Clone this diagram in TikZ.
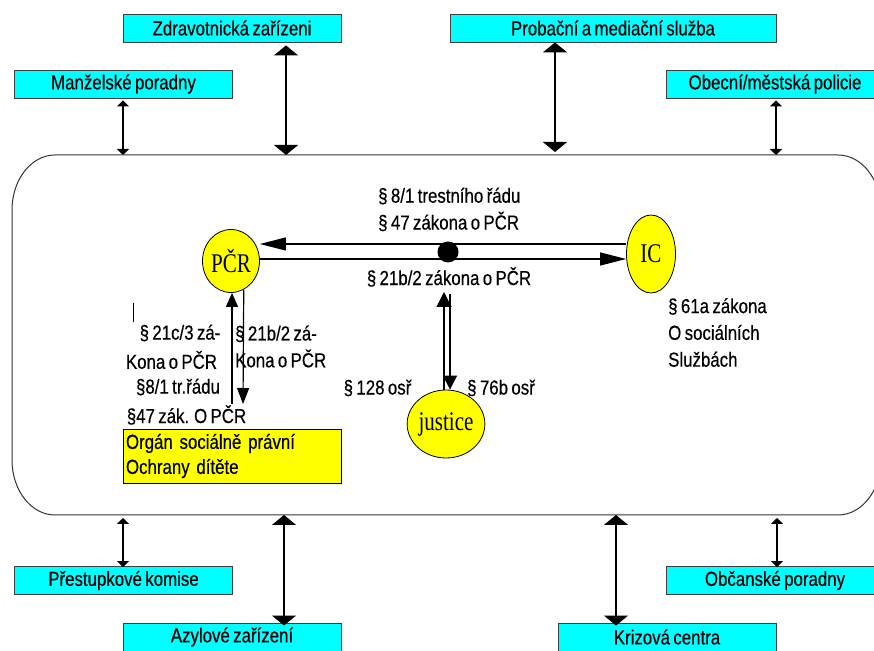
\documentclass[tikz,border=0pt]{standalone}
\usepackage{fontspec}
\setmainfont{Liberation Sans}[FakeStretch=0.83,WordSpace=0.72,FakeBold=0.4]
\newfontfamily\serifn{Liberation Serif}[FakeStretch=0.78]
\usetikzlibrary{arrows.meta,shapes.geometric,calc}
\definecolor{aqua}{RGB}{0,255,255}
\definecolor{yel}{RGB}{255,255,0}
\begin{document}
\begin{tikzpicture}[x=1pt,y=1pt,
  txt/.style={font=\fontsize{20.3}{26.8}\selectfont, inner sep=0pt},
  org/.style={draw=black!75, line width=0.9pt, fill=aqua, minimum width=218pt,
    minimum height=28pt, inner sep=0pt, font=\fontsize{20.3}{26}\selectfont},
  body/.style={ellipse, draw=black, line width=0.8pt, fill=yel, inner sep=0pt,
    font=\serifn\fontsize{27}{30}\selectfont},
  big/.style={line width=1.6pt, {Triangle[width=24pt,length=10pt]}-{Triangle[width=24pt,length=10pt]}},
  small/.style={line width=1.3pt, {Triangle[width=12pt,length=6pt]}-{Triangle[width=12pt,length=6pt]}},
  hl/.style={line width=1.2pt, -{Triangle[width=13pt,length=26pt]}},
  vl/.style={line width=1.2pt}
]
\useasboundingbox (0,0) rectangle (874,650);
\fill[white] (0,0) rectangle (874,650);

% frame
\draw[black!80, line width=1pt] (55,495) -- (838,495)
  arc[start angle=90,end angle=0,x radius=43,y radius=55] -- (881,190)
  arc[start angle=0,end angle=-90,x radius=43,y radius=55] -- (55,135)
  arc[start angle=270,end angle=180,x radius=43,y radius=55] -- (12,440)
  arc[start angle=180,end angle=90,x radius=43,y radius=55] -- cycle;

% outer boxes
\node[org] (zdrav) at (232,622) {Zdravotnická zařízeni};
\node[org] (manz) at (123.5,566) {Manželské poradny};
\node[org, minimum width=326pt] (prob) at (613,622) {Probační a mediační služba};
\node[org] (obec) at (775,566) {Obecní/městská policie};
\node[org] (prest) at (123.5,69.5) {Přestupkové komise};
\node[org] (azyl) at (232,13) {Azylové zařízení};
\node[org] (obc) at (775,69.5) {Občanské poradny};
\node[org] (kriz) at (667,13) {Krizová centra};

% frame anchor points
\coordinate (f1) at (123,495);
\coordinate (f2) at (286,495);
\coordinate (f3) at (555,498);
\coordinate (f4) at (776,495);
\coordinate (f5) at (123,132);
\coordinate (f6) at (284,135);
\coordinate (f7) at (616,135);
\coordinate (f8) at (777,132);

\draw[small] ([yshift=-2pt]manz.south -| f1) -- (f1);
\draw[big] ([yshift=-3pt]zdrav.south -| f2) -- (f2);
\draw[big] (prob.south -| f3) -- (f3);
\draw[small] ([yshift=-2pt]obec.south -| f4) -- (f4);
\draw[small] (f5) -- ([yshift=-1pt]prest.north -| f5);
\draw[big] (f6) -- ([yshift=-3pt]azyl.north -| f6);
\draw[big] (f7) -- ([yshift=-3pt]kriz.north -| f7);
\draw[small] (f8) -- ([yshift=-1pt]obc.north -| f8);

% inner nodes
\node[body, minimum width=57pt, minimum height=63pt] (pcr) at (231,389) {PČR};
\node[body, minimum width=49pt, minimum height=78pt] (ic) at (651,396) {IC};
\node[body, minimum width=56pt, minimum height=68pt] (just) at (446,226) {justice};

\coordinate (yA) at (0,406);
\coordinate (yB) at (0,391);
\draw[hl] (ic.west |- yA) -- (pcr.east |- yA);
\draw[hl] (pcr.east |- yB) -- (ic.west |- yB);

\node[circle, fill=black, minimum size=21pt, inner sep=0pt] (dot) at (448,398) {};

% PCR verticals
\coordinate (pa) at (232,246);
\coordinate (pb) at (243,246);
\draw[vl, -{Triangle[width=12pt,length=14pt]}] (pa) -- ([xshift=1pt]pcr.south);
\draw[vl, -{Triangle[width=12pt,length=16pt]}] (pcr.-66.6) -- (pb);

% justice verticals
\coordinate (ja) at (444,358);
\coordinate (jb) at (450,356);
\draw[vl, -{Triangle[width=15pt,length=15pt]}] ([xshift=-2pt]just.north) -- (ja);
\draw[vl, -{Triangle[width=14pt,length=14pt]}] (jb) -- ([xshift=4pt]just.north);

% stray mark
\draw[line width=0.8pt] (133,347) -- (133,328);

% labels
\node[txt, anchor=west, align=left] (t1) at (378,440.5) {§ 8/1 trestního řádu\\§ 47 zákona o PČR};
\node[txt] (t2) at (449,373) {§ 21b/2 zákona o PČR};
\node[txt] (t3a) at (180,317) {§ 21c/3 zá-};
\node[txt] (t3b) at (171.5,290) {Kona o PČR};
\node[txt] (t3c) at (178,263) {§8/1 tr.řádu};
\node[txt] (t3d) at (186.5,235) {§47 zák. O PČR};
\node[txt, anchor=west, align=left] (t4) at (235,303.5) {§ 21b/2 zá-\\Kona o PČR};
\node[txt] (t5) at (377.5,262) {§ 128 osř};
\node[txt] (t6) at (501,262) {§ 76b osř};
\node[txt, anchor=west, align=left] (t7) at (668,317.5) {§ 61a zákona\\O sociálních\\Službách};

\node[draw=black, fill=yel, line width=0.8pt, minimum width=218pt, minimum height=54pt,
  text width=212pt, inner sep=3pt, align=left, font=\fontsize{20.3}{25}\selectfont]
  (osp) at (232,194) {Orgán sociálně právní\\Ochrany dítěte};
\end{tikzpicture}
\end{document}
